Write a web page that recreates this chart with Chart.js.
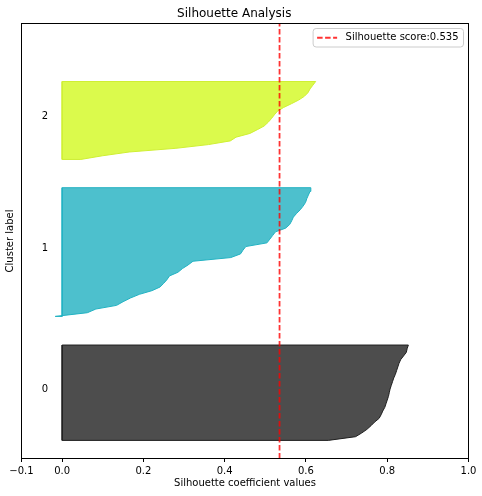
<!DOCTYPE html>
<html>
<head>
<meta charset="utf-8">
<script src="https://cdn.jsdelivr.net/npm/chart.js@4.4.1/dist/chart.umd.min.js"></script>
<style>
  html, body { margin: 0; padding: 0; background: #fff; }
  #chart { display: block; }
</style>
</head>
<body>
<canvas id="chart" width="482" height="496"></canvas>
<script>
// silhouette values of each cluster, sorted low -> high (bottom -> top of the band)
const cluster0Values = [0.655, 0.722, 0.737, 0.750, 0.760, 0.769, 0.780, 0.785, 0.789, 0.794,
  0.797, 0.800, 0.803, 0.805, 0.807, 0.810, 0.813, 0.816, 0.820, 0.823,
  0.826, 0.829, 0.833, 0.840, 0.847, 0.849, 0.852];
const cluster1Values = [-0.017, 0.062, 0.083, 0.134, 0.150, 0.168, 0.190, 0.221, 0.241, 0.250,
  0.258, 0.264, 0.285, 0.296, 0.310, 0.322, 0.415, 0.439, 0.445, 0.452,
  0.504, 0.511, 0.518, 0.525, 0.550, 0.560, 0.565, 0.569, 0.577, 0.586,
  0.593, 0.599, 0.602, 0.606, 0.610, 0.612];
const cluster2Values = [0.046, 0.100, 0.165, 0.280, 0.360, 0.414, 0.428, 0.462, 0.480, 0.497,
  0.507, 0.515, 0.522, 0.530, 0.545, 0.564, 0.582, 0.596, 0.605, 0.610,
  0.617, 0.624];
const clusterLabels = ['0', '1', '2'];
// y range (sample position) covered by each band
const clusterYStart = [10, 78.4, 165];
const clusterYEnd = [62.6, 149.4, 208];
const silhouetteScore = 0.535;
const xTicks = [-0.1, 0.0, 0.2, 0.4, 0.6, 0.8, 1.0];

const FONT = '"DejaVu Sans", sans-serif';
Chart.defaults.font.family = FONT;
Chart.defaults.color = '#000';

const fills = ['#4d4d4d', '#4dc0cd', '#dbfa4c'];
const edges = ['#1f1f1f', '#22b2c2', '#cfef33'];
const allValues = [cluster0Values, cluster1Values, cluster2Values];

function bandPolygon(values, y0, y1) {
  const step = (y1 - y0) / (values.length - 1);
  const pts = [{ x: 0, y: y0 }];
  values.forEach((v, i) => pts.push({ x: v, y: y0 + i * step }));
  pts.push({ x: 0, y: y1 });
  pts.push({ x: 0, y: y0 });
  return pts;
}

const scoreLine = {
  label: 'Silhouette score:' + silhouetteScore,
  data: [{ x: silhouetteScore, y: 0 }, { x: silhouetteScore, y: 240 }],
  showLine: true,
  borderColor: 'rgba(255,0,0,0.8)',
  borderWidth: 1.8,
  borderDash: [5.5, 2.5],
  pointRadius: 0,
  fill: false
};

const bands = allValues.map((vals, i) => ({
  label: 'cluster ' + clusterLabels[i],
  data: bandPolygon(vals, clusterYStart[i], clusterYEnd[i]),
  showLine: true,
  fill: 'shape',
  backgroundColor: fills[i],
  borderColor: edges[i],
  borderWidth: 1,
  pointRadius: 0
}));

// box round the plot, cluster numbers and the legend inside the plot
const decorations = {
  id: 'decorations',
  afterDraw(chart) {
    const { ctx, chartArea: a, scales: { x, y } } = chart;
    ctx.save();
    ctx.strokeStyle = '#000';
    ctx.lineWidth = 1;
    ctx.strokeRect(a.left, a.top, a.right - a.left, a.bottom - a.top);

    ctx.font = '10px ' + FONT;
    ctx.fillStyle = '#000';
    ctx.textAlign = 'left';
    ctx.textBaseline = 'alphabetic';
    clusterLabels.forEach((lab, i) => {
      const mid = (clusterYStart[i] + clusterYEnd[i]) / 2;
      ctx.fillText(lab, x.getPixelForValue(-0.05), y.getPixelForValue(mid) - 1);
    });

    const text = scoreLine.label;
    const tw = ctx.measureText(text).width;
    const right = a.right - 5, top = a.top + 5;
    const w = tw + 37.5, h = 18.5;
    const left = right - w;
    ctx.beginPath();
    if (ctx.roundRect) ctx.roundRect(left, top, w, h, 3); else ctx.rect(left, top, w, h);
    ctx.fillStyle = 'rgba(255,255,255,0.8)';
    ctx.fill();
    ctx.strokeStyle = '#cccccc';
    ctx.stroke();

    const cy = top + h / 2;
    ctx.beginPath();
    ctx.setLineDash(scoreLine.borderDash);
    ctx.strokeStyle = scoreLine.borderColor;
    ctx.lineWidth = scoreLine.borderWidth;
    ctx.moveTo(left + 4, cy);
    ctx.lineTo(left + 24, cy);
    ctx.stroke();
    ctx.setLineDash([]);
    ctx.fillStyle = '#000';
    ctx.textBaseline = 'middle';
    ctx.fillText(text, left + 32.5, cy);
    ctx.restore();
  }
};

new Chart(document.getElementById('chart'), {
  type: 'scatter',
  data: { datasets: [scoreLine, ...bands] },
  options: {
    responsive: false,
    animation: false,
    layout: { padding: { left: 0, right: 13.5, top: 0, bottom: 0 } },
    plugins: {
      legend: { display: false },
      tooltip: { enabled: false },
      title: {
        display: true,
        text: 'Silhouette Analysis',
        color: '#000',
        font: { size: 12, weight: 'normal' },
        padding: { top: 6.5, bottom: 2.6 }
      }
    },
    scales: {
      x: {
        type: 'linear',
        min: -0.1,
        max: 1.0,
        afterBuildTicks: s => { s.ticks = xTicks.map(v => ({ value: v })); },
        afterFit: s => { s.height = 37.5; },
        grid: { display: true, drawOnChartArea: false, drawTicks: true, tickLength: 3.5, color: '#000' },
        border: { display: false },
        ticks: {
          padding: 3.5,
          color: '#000',
          font: { size: 10 },
          maxRotation: 0,
          autoSkip: false,
          callback: v => v.toFixed(1).replace('-', '\u2212')
        },
        title: {
          display: true,
          text: 'Silhouette coefficient values',
          color: '#000',
          font: { size: 10 },
          padding: { top: 0, bottom: 6.5 }
        }
      },
      y: {
        type: 'linear',
        min: 0,
        max: 240,
        afterFit: s => { s.width = 21.5; },
        grid: { display: false },
        border: { display: false },
        ticks: { display: false },
        title: {
          display: true,
          text: 'Cluster label',
          color: '#000',
          font: { size: 10 },
          padding: { top: 4.5, bottom: 0 }
        }
      }
    }
  },
  plugins: [decorations]
});
</script>
</body>
</html>
